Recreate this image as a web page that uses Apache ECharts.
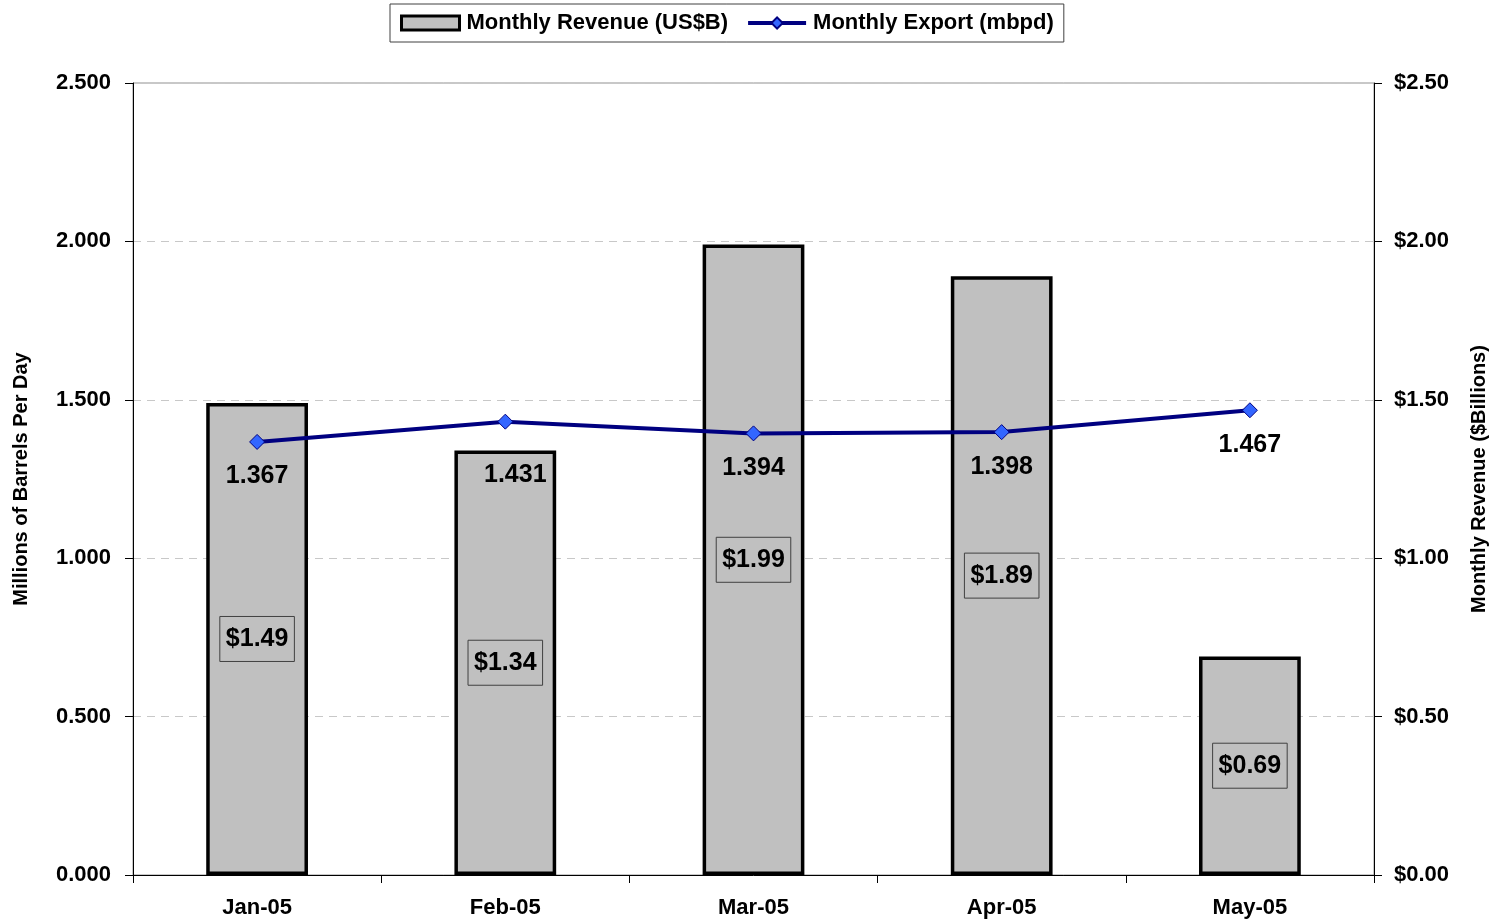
<!DOCTYPE html>
<html>
<head>
<meta charset="utf-8">
<script src="https://cdn.jsdelivr.net/npm/echarts@6/dist/echarts.min.js"></script>
<style>
html, body { margin: 0; padding: 0; background: #fff; }
#main { width: 1498px; height: 922px; }
</style>
</head>
<body>
<div id="main"></div>
<script>
var months = ['Jan-05', 'Feb-05', 'Mar-05', 'Apr-05', 'May-05'];
var revenue = [1.49, 1.34, 1.99, 1.89, 0.69];       // US$ billions
var exportMbpd = [1.367, 1.431, 1.394, 1.398, 1.467]; // million barrels per day

var font = 'Liberation Sans, Arial, sans-serif';

var chart = echarts.init(document.getElementById('main'));
var option = {
    animation: false,
    textStyle: { fontFamily: font },
    legend: {
        top: 4,
        left: 390,
        padding: [8, 10],
        borderColor: '#404040',
        borderWidth: 1,
        itemGap: 18,
        itemWidth: 58,
        itemHeight: 14,
        textStyle: { fontSize: 22, fontWeight: 'bold', color: '#000', fontFamily: font, padding: [0, 0, 0, 2] },
        data: [
            { name: 'Monthly Revenue (US$B)', icon: 'rect', itemStyle: { color: '#c0c0c0', borderColor: '#000', borderWidth: 3 } },
            { name: 'Monthly Export (mbpd)', lineStyle: { color: '#000080', width: 4 } }
        ]
    },
    grid: {
        left: 133, right: 124, top: 83, bottom: 47,
        show: true, borderColor: '#909090', borderWidth: 1
    },
    xAxis: {
        type: 'category',
        data: months,
        axisLine: { lineStyle: { color: '#000', width: 1 } },
        axisTick: { show: true, length: 8, lineStyle: { color: '#000' } },
        axisLabel: { fontSize: 22, fontWeight: 'bold', color: '#000', margin: 22 }
    },
    yAxis: [
        {
            type: 'value', min: 0, max: 2.5, interval: 0.5,
            name: 'Millions of Barrels Per Day',
            nameLocation: 'middle', nameGap: 102, nameRotate: 90,
            nameTextStyle: { fontSize: 20, fontWeight: 'bold', color: '#000' },
            axisLine: { show: true, lineStyle: { color: '#000' } },
            axisTick: { show: true, length: 8, lineStyle: { color: '#000' } },
            axisLabel: { fontSize: 22, fontWeight: 'bold', color: '#000', margin: 22,
                formatter: function (v) { return v.toFixed(3); } },
            splitLine: { show: true, lineStyle: { color: '#c8c8c8', type: [8, 6] } }
        },
        {
            type: 'value', min: 0, max: 2.5, interval: 0.5, position: 'right',
            name: 'Monthly Revenue ($Billions)',
            nameLocation: 'middle', nameGap: 95, nameRotate: 90,
            nameTextStyle: { fontSize: 20, fontWeight: 'bold', color: '#000' },
            axisLine: { show: true, lineStyle: { color: '#000' } },
            axisTick: { show: true, length: 8, lineStyle: { color: '#000' } },
            axisLabel: { fontSize: 22, fontWeight: 'bold', color: '#000', margin: 20,
                formatter: function (v) { return '$' + v.toFixed(2); } },
            splitLine: { show: false }
        }
    ],
    series: [
        {
            name: 'Monthly Revenue (US$B)',
            type: 'bar',
            yAxisIndex: 1,
            barWidth: '41%',
            data: revenue,
            itemStyle: { color: '#c0c0c0', borderColor: '#000', borderWidth: 3.5 },
            label: {
                show: true, position: 'inside',
                fontSize: 25, fontWeight: 'bold', color: '#000',
                borderColor: '#404040', borderWidth: 1, padding: [11, 6, 9, 6],
                formatter: function (p) { return '$' + p.value.toFixed(2); }
            }
        },
        {
            name: 'Monthly Export (mbpd)',
            type: 'line',
            yAxisIndex: 0,
            data: exportMbpd,
            symbol: 'diamond',
            symbolSize: 15,
            lineStyle: { color: '#000080', width: 4 },
            itemStyle: { color: '#3366ff', borderColor: '#000080', borderWidth: 1 },
            label: {
                show: true, position: 'bottom', distance: 14,
                fontSize: 25, fontWeight: 'bold', color: '#000',
                formatter: function (p) { return p.value.toFixed(3); }
            },
            labelLayout: function (p) {
                if (p.dataIndex === 1) return { dx: 10, dy: 19 };
                return {};
            },
            z: 5
        }
    ]
};
chart.setOption(option);
</script>
</body>
</html>
